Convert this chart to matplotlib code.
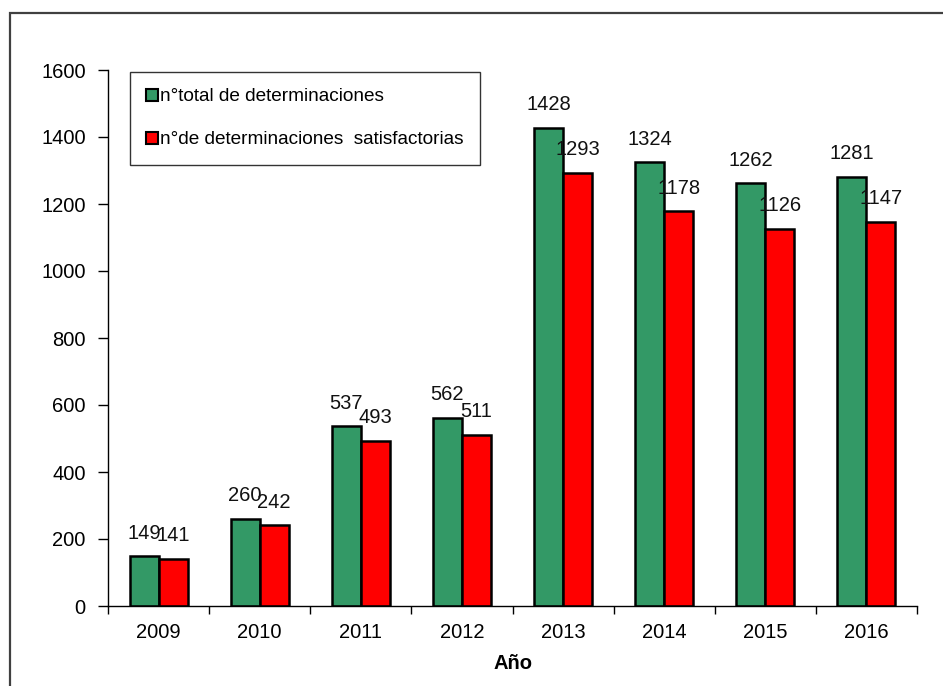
import numpy as np
import matplotlib
matplotlib.use("Agg")
import matplotlib.pyplot as plt
from matplotlib.patches import Rectangle
from matplotlib.lines import Line2D

plt.rcParams['font.family'] = ['Liberation Sans', 'DejaVu Sans']

# -----------------------------
# Data
# -----------------------------
years = ["2009", "2010", "2011", "2012", "2013", "2014", "2015", "2016"]
total_det = [149, 260, 537, 562, 1428, 1324, 1262, 1281]
satisf_det = [141, 242, 493, 511, 1293, 1178, 1126, 1147]
label_total = "n°total de determinaciones"
label_satisf = "n°de determinaciones  satisfactorias"

green = "#339966"
red = "#FF0000"
fs = 14.5

# -----------------------------
# Figure
# -----------------------------
W, H = 943, 686
fig = plt.figure(figsize=(W / 100, H / 100), dpi=100)

# outer frame (runs off the right/bottom edge)
fig.add_artist(Rectangle((10 / W, -0.1), 1.2, 1 - 13 / H + 0.1,
                         transform=fig.transFigure, fill=False,
                         edgecolor="#404040", lw=1.6))

ax = fig.add_axes([108 / W, 1 - 606 / H, (917 - 108) / W, (606 - 70) / H])

x = np.arange(len(years))
bw = 0.287
b1 = ax.bar(x - bw / 2, total_det, bw, color=green, edgecolor="black", lw=1.8)
b2 = ax.bar(x + bw / 2, satisf_det, bw, color=red, edgecolor="black", lw=1.8)

for bars, vals in ((b1, total_det), (b2, satisf_det)):
    for b, v in zip(bars, vals):
        ax.annotate(str(v), (b.get_x() + b.get_width() / 2, v),
                    xytext=(0, 16.5), textcoords="offset points",
                    ha="center", va="center", fontsize=fs, color="#111111")

ax.set_xlim(-0.5, len(years) - 0.5)
ax.set_ylim(0, 1600)
ax.set_yticks(np.arange(0, 1601, 200))
ax.set_xticks(x)
ax.set_xticklabels(years)
ax.set_xticks(np.arange(-0.5, len(years), 1.0), minor=True)
ax.tick_params(axis="x", which="major", length=0, pad=12, labelsize=fs)
ax.tick_params(axis="x", which="minor", length=6, width=1)
ax.tick_params(axis="y", length=7, width=1, labelsize=fs, pad=9)

for s in ("top", "right"):
    ax.spines[s].set_visible(False)
for s in ("left", "bottom"):
    ax.spines[s].set_linewidth(1)

ax.set_xlabel("Año", fontsize=fs, fontweight="bold", labelpad=9)

handles = [Line2D([], [], marker="s", ls="none", markersize=9,
                  markerfacecolor=c, markeredgecolor="black", markeredgewidth=1.5)
           for c in (green, red)]
leg = ax.legend(handles, [label_total, label_satisf], loc="upper left",
                bbox_to_anchor=((130 - 108) / (917 - 108), 1 - 2 / (606 - 70)),
                fontsize=13.7, frameon=True, fancybox=False, handlelength=0.6,
                handletextpad=0.15, labelspacing=1.35, borderpad=0.85,
                borderaxespad=0)
leg.get_frame().set_edgecolor("black")
leg.get_frame().set_linewidth(1)

fig.savefig("out.png", dpi=100)
